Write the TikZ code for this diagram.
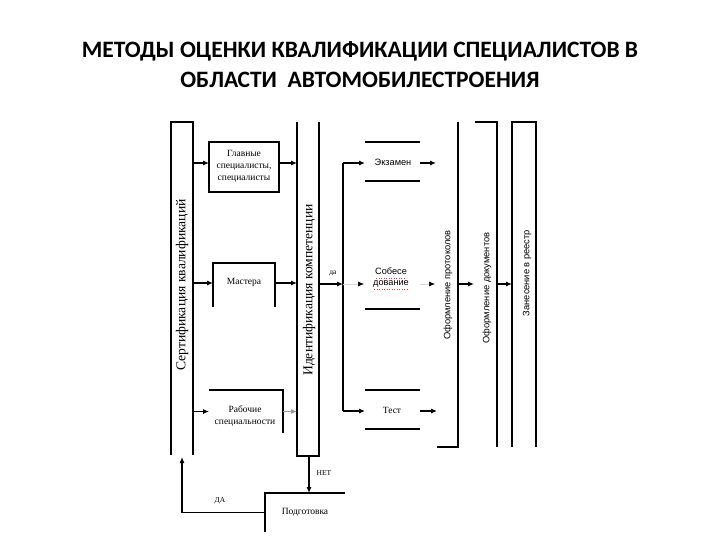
\documentclass[tikz,border=0pt]{standalone}
\usepackage{fontspec}
\setmainfont{Liberation Serif}
\newfontfamily\titlefont{Carlito}
\newfontfamily\sansf{Liberation Sans}
\usetikzlibrary{arrows.meta,calc}
\begin{document}
\begin{tikzpicture}[x=1pt,y=1pt,
  ln/.style={line width=1.1pt,draw=black},
  arr/.style={line width=1.1pt,draw=black,-{Latex[length=6pt,width=5pt]}},
  faint/.style={line width=0.6pt,draw=black!15,-{Latex[length=6pt,width=5pt,color=black]}},
  area/.style={inner sep=0pt,outer sep=0pt},
  txt/.style={inner sep=0pt,font=\fontsize{9.5}{12}\selectfont,align=center},
  stxt/.style={inner sep=0pt,font=\sansf\fontsize{9.2}{11}\selectfont,align=center},
  vlbl/.style={inner sep=0pt,rotate=90,font=\fontsize{13.6}{15}\selectfont},
  svlbl/.style={inner sep=0pt,rotate=90,font=\sansf\fontsize{9.3}{11}\selectfont},
  wavy/.style={draw=red!80,line width=0.5pt,dotted}
]
\useasboundingbox (0,0) rectangle (720,-540);

% title
\node[inner sep=0pt,align=center,font=\titlefont\bfseries\fontsize{23.5}{30}\selectfont] (title) at (360,-65)
  {МЕТОДЫ ОЦЕНКИ КВАЛИФИКАЦИИ СПЕЦИАЛИСТОВ В\\ОБЛАСТИ\ \ АВТОМОБИЛЕСТРОЕНИЯ};

% left bar: certification
\node[area,minimum width=22pt,minimum height=333pt] (cert) at (182,-288.5) {};
\draw[ln] (cert.south west) -- (cert.north west) -- (cert.north east) -- (cert.south east);
\node[vlbl] (certl) at (182,-285) {Сертификация квалификаций};

% second bar: identification
\node[area,minimum width=22pt,minimum height=334pt] (ident) at (308,-289) {};
\draw[ln] (ident.north west) -- (ident.south west) -- (ident.south east) -- (ident.north east);
\node[vlbl] (identl) at (309,-290) {Идентификация компетенции};

% box: главные специалисты
\node[area,draw,line width=1.1pt,minimum width=70pt,minimum height=50pt] (glav) at (244,-167) {};
\node[txt] (glavl) at (244,-166) {Главные\\специалисты,\\специалисты};
\draw[arr] (cert.east |- 0,-163) -- (glav.west |- 0,-163);
\draw[arr] (glav.east |- 0,-163) -- (ident.west |- 0,-163);

% box: мастера
\node[area,minimum width=62pt,minimum height=44pt] (mast) at (244,-285) {};
\draw[ln] (mast.south west) -- (mast.north west) -- (mast.north east) -- (mast.south east);
\node[txt] (mastl) at (244,-282) {Мастера};
\draw[arr] (cert.east |- 0,-283) -- (mast.west |- 0,-283);
\draw[arr] (mast.east |- 0,-283) -- (ident.west |- 0,-283);

% box: рабочие специальности
\node[area,minimum width=74pt,minimum height=43pt] (rab) at (246,-411.5) {};
\draw[ln] (rab.north west) -- (rab.north east) -- (rab.south east);
\node[txt] (rabl) at (245,-416) {Рабочие\\специальности};
\draw[arr] (cert.east |- rab.west) -- (rab.west);
\draw[arr,draw=black!40] (rab.east) -- (ident.west |- rab.east);

% подготовка
\node[area,minimum width=80pt,minimum height=39pt] (podg) at (305,-512.5) {};
\draw[ln] (podg.north east) -- (podg.north west) -- (podg.south west);
\node[txt] (podgl) at (305,-512) {Подготовка};
\coordinate (ibot) at (309,-456);
\draw[arr] (ibot) -- (ibot |- podg.north);
\node[txt,font=\fontsize{7.5}{8}\selectfont] (net) at (324,-473) {НЕТ};
\draw[arr] (podg.west) -| ([yshift=-2pt]cert.south);
\node[txt,font=\fontsize{7.5}{8}\selectfont] (da1) at (220,-501) {ДА};

% distribution line
\coordinate (vtop) at (343,-163);
\coordinate (vmid) at (343,-284);
\coordinate (vbot) at (343,-411);
\draw[ln] (vtop) -- (vbot);
\draw[arr] (ident.east |- vmid) -- (vmid);
\node[txt,font=\fontsize{7.5}{8}\selectfont] (da2) at (333,-273) {да};

% экзамен
\node[area,minimum width=55pt,minimum height=39pt] (ekz) at (392.5,-161.5) {};
\draw[ln] (ekz.north west) -- (ekz.north east);
\draw[ln] (ekz.south west) -- (ekz.south east);
\node[stxt] (ekzl) at (393,-162) {Экзамен};
\draw[arr] (vtop) -- (ekz.west |- vtop);

% собеседование
\node[area,minimum width=55pt,minimum height=48pt] (sob) at (392.5,-285) {};
\draw[ln] (sob.south west) -- (sob.south east);
\node[stxt] (sobl) at (391,-278) {Собесе\\дование};
\draw[wavy] (376,-278.5) -- (406,-278.5);
\draw[wavy] (374,-289.5) -- (409,-289.5);
\draw[faint] (vmid) -- ([xshift=-1pt]sob.west |- vmid);

% тест
\node[area,minimum width=55pt,minimum height=39pt] (test) at (392.5,-409.5) {};
\draw[ln] (test.north west) -- (test.north east);
\draw[ln] (test.south west) -- (test.south east);
\node[txt] (testl) at (392,-410) {Тест};
\draw[arr] (vbot) -- (test.west |- vbot);

% оформление протоколов
\node[area,minimum width=21pt,minimum height=325pt] (prot) at (447.5,-284.5) {};
\draw[ln] (prot.north east) -- (prot.south east) -- (prot.south west);
\node[svlbl] (protl) at (448,-285) {Оформление протоколов};
\draw[arr] (ekz.east |- vtop) -- ([xshift=-1pt]prot.west |- vtop);
\draw[faint] (sob.east |- vmid) -- ([xshift=-2pt]prot.west |- vmid);
\draw[arr] (test.east |- vbot) -- (prot.west |- vbot);

% оформление документов
\node[area,minimum width=22pt,minimum height=325pt] (doc) at (486,-284.5) {};
\draw[ln] (doc.north west) -- (doc.north east) -- (doc.south east);
\node[svlbl] (docl) at (487,-288) {Оформление документов};
\draw[arr] (prot.east |- vmid) -- ([xshift=-1pt]doc.west |- vmid);

% занесение в реестр
\node[area,minimum width=24pt,minimum height=325pt] (reestr) at (524,-284.5) {};
\draw[ln] (reestr.south west) -- (reestr.north west) -- (reestr.north east) -- (reestr.south east);
\node[svlbl] (reestrl) at (527,-273) {Занесение в реестр};
\draw[arr] (doc.east |- vmid) -- (reestr.west |- vmid);
\end{tikzpicture}
\end{document}
